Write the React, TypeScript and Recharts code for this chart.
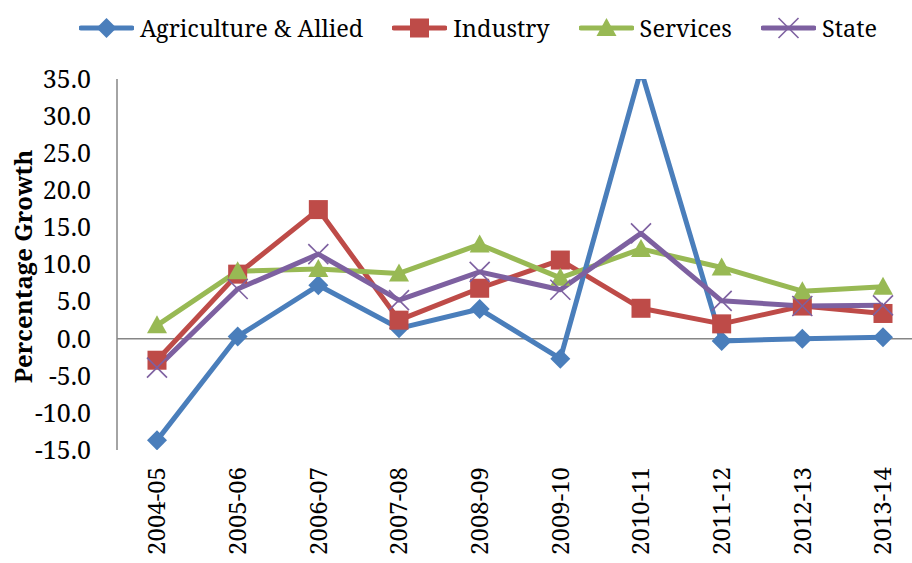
import React from 'react';
import { LineChart, Line, XAxis, YAxis, ReferenceLine } from 'recharts';

const years = ['2004-05', '2005-06', '2006-07', '2007-08', '2008-09', '2009-10', '2010-11', '2011-12', '2012-13', '2013-14'];
const agriculture = [-13.7, 0.3, 7.2, 1.4, 4.0, -2.7, 36.2, -0.3, 0.0, 0.2];
const industry = [-2.9, 8.7, 17.4, 2.5, 6.8, 10.6, 4.1, 2.0, 4.4, 3.4];
const services = [1.8, 9.1, 9.4, 8.8, 12.7, 8.2, 12.1, 9.6, 6.4, 7.0];
const state = [-3.9, 6.7, 11.4, 5.2, 9.0, 6.6, 14.2, 5.1, 4.4, 4.5];
const yTicks = [-15, -10, -5, 0, 5, 10, 15, 20, 25, 30, 35];

const data = years.map((year, i) => ({
  year,
  agriculture: agriculture[i],
  industry: industry[i],
  services: services[i],
  state: state[i],
}));

const FONT = '"Noto Serif", "Liberation Serif", serif';
const AXIS_GRAY = '#868686';

const COLORS = {
  agriculture: '#4A7EBB',
  industry: '#BE4B48',
  services: '#98B954',
  state: '#7D60A0',
};

type Shape = 'diamond' | 'square' | 'triangle' | 'cross';

const series: { key: keyof typeof COLORS; name: string; shape: Shape }[] = [
  { key: 'agriculture', name: 'Agriculture & Allied', shape: 'diamond' },
  { key: 'industry', name: 'Industry', shape: 'square' },
  { key: 'services', name: 'Services', shape: 'triangle' },
  { key: 'state', name: 'State', shape: 'cross' },
];

function Marker({ shape, cx, cy, color }: { shape: Shape; cx: number; cy: number; color: string }) {
  if (cx == null || cy == null || Number.isNaN(cx) || Number.isNaN(cy)) return null;
  switch (shape) {
    case 'diamond': {
      const r = 10;
      return <polygon points={`${cx},${cy - r} ${cx + r},${cy} ${cx},${cy + r} ${cx - r},${cy}`} fill={color} />;
    }
    case 'square': {
      const h = 9.5;
      return <rect x={cx - h} y={cy - h} width={h * 2} height={h * 2} fill={color} />;
    }
    case 'triangle': {
      const w = 10;
      const up = 10;
      const down = 8;
      return <polygon points={`${cx},${cy - up} ${cx + w},${cy + down} ${cx - w},${cy + down}`} fill={color} />;
    }
    case 'cross': {
      const h = 10;
      return (
        <g stroke={color} strokeWidth={1.6}>
          <line x1={cx - h} y1={cy - h} x2={cx + h} y2={cy + h} />
          <line x1={cx - h} y1={cy + h} x2={cx + h} y2={cy - h} />
        </g>
      );
    }
  }
  return null;
}

const makeDot = (shape: Shape, color: string) => (props: any) => (
  <Marker key={`${shape}-${props.index}`} shape={shape} cx={props.cx} cy={props.cy} color={color} />
);

function LegendContent() {
  return (
    <div style={{ display: 'flex', alignItems: 'center', paddingLeft: 79, height: 56, fontFamily: FONT, fontSize: 23.5 }}>
      {series.map((s, i) => (
        <div key={s.key} style={{ display: 'flex', alignItems: 'center', marginRight: i < series.length - 1 ? 29 : 0 }}>
          <svg width={55} height={24} style={{ display: 'block' }}>
            <line x1={2} y1={12} x2={53} y2={12} stroke={COLORS[s.key]} strokeWidth={5} strokeLinecap="round" />
            <Marker shape={s.shape} cx={27.5} cy={12} color={COLORS[s.key]} />
          </svg>
          <span style={{ marginLeft: 6, color: '#000', lineHeight: '26px' }}>{s.name}</span>
        </div>
      ))}
    </div>
  );
}

function YearTick(props: any) {
  const { x, y, payload } = props;
  return (
    <text
      x={x}
      y={y}
      transform={`rotate(-90, ${x}, ${y})`}
      textAnchor="end"
      dy="0.35em"
      fontFamily={FONT}
      fontSize={24}
      fill="#000"
    >
      {payload.value}
    </text>
  );
}

function YTitle(props: any) {
  const vb = props.viewBox || { x: 0, y: 79, width: 117, height: 371 };
  const cx = 24;
  const cy = vb.y + vb.height / 2 + 2;
  return (
    <text
      x={cx}
      y={cy}
      transform={`rotate(-90, ${cx}, ${cy})`}
      textAnchor="middle"
      dy="0.35em"
      fontFamily={FONT}
      fontWeight="bold"
      fontSize={24}
      fill="#000"
    >
      Percentage Growth
    </text>
  );
}

// Line draw order (bottom to top); markers are drawn afterwards in legend order
const lineOrder: (keyof typeof COLORS)[] = ['industry', 'services', 'agriculture', 'state'];

export default function App() {
  return (
    <div style={{ position: 'absolute', left: 0, top: 0, width: 912, height: 563, overflow: 'hidden', background: '#fff' }}>
      <div style={{ position: 'absolute', left: 0, top: 0, width: 912, height: 56 }}>
        <LegendContent />
      </div>
      <LineChart width={924} height={563} data={data} margin={{ top: 79, right: 1, bottom: 0, left: 0 }}>
        <XAxis
          dataKey="year"
          interval={0}
          axisLine={false}
          tickLine={false}
          tickSize={0}
          tickMargin={17}
          height={113}
          padding={{ left: 40, right: 40 }}
          tick={<YearTick />}
        />
        <YAxis
          type="number"
          domain={[-15, 35]}
          ticks={yTicks}
          allowDataOverflow
          width={117}
          tickSize={0}
          tickMargin={26}
          tickLine={false}
          axisLine={{ stroke: AXIS_GRAY, strokeWidth: 1.5 }}
          tickFormatter={(v: number) => v.toFixed(1)}
          tick={{ fontFamily: FONT, fontSize: 25, fill: '#000' }}
          label={<YTitle />}
        />
        <ReferenceLine y={0} stroke={AXIS_GRAY} strokeWidth={1.5} />
        {lineOrder.map((k) => (
          <Line
            key={`line-${k}`}
            type="linear"
            dataKey={k}
            stroke={COLORS[k]}
            strokeWidth={5}
            strokeLinejoin="round"
            dot={false}
            activeDot={false}
            isAnimationActive={false}
            legendType="none"
          />
        ))}
        {series.map((s) => (
          <Line
            key={`dots-${s.key}`}
            type="linear"
            dataKey={s.key}
            stroke="none"
            strokeWidth={0}
            dot={makeDot(s.shape, COLORS[s.key])}
            activeDot={false}
            isAnimationActive={false}
            legendType="none"
          />
        ))}
      </LineChart>
    </div>
  );
}
